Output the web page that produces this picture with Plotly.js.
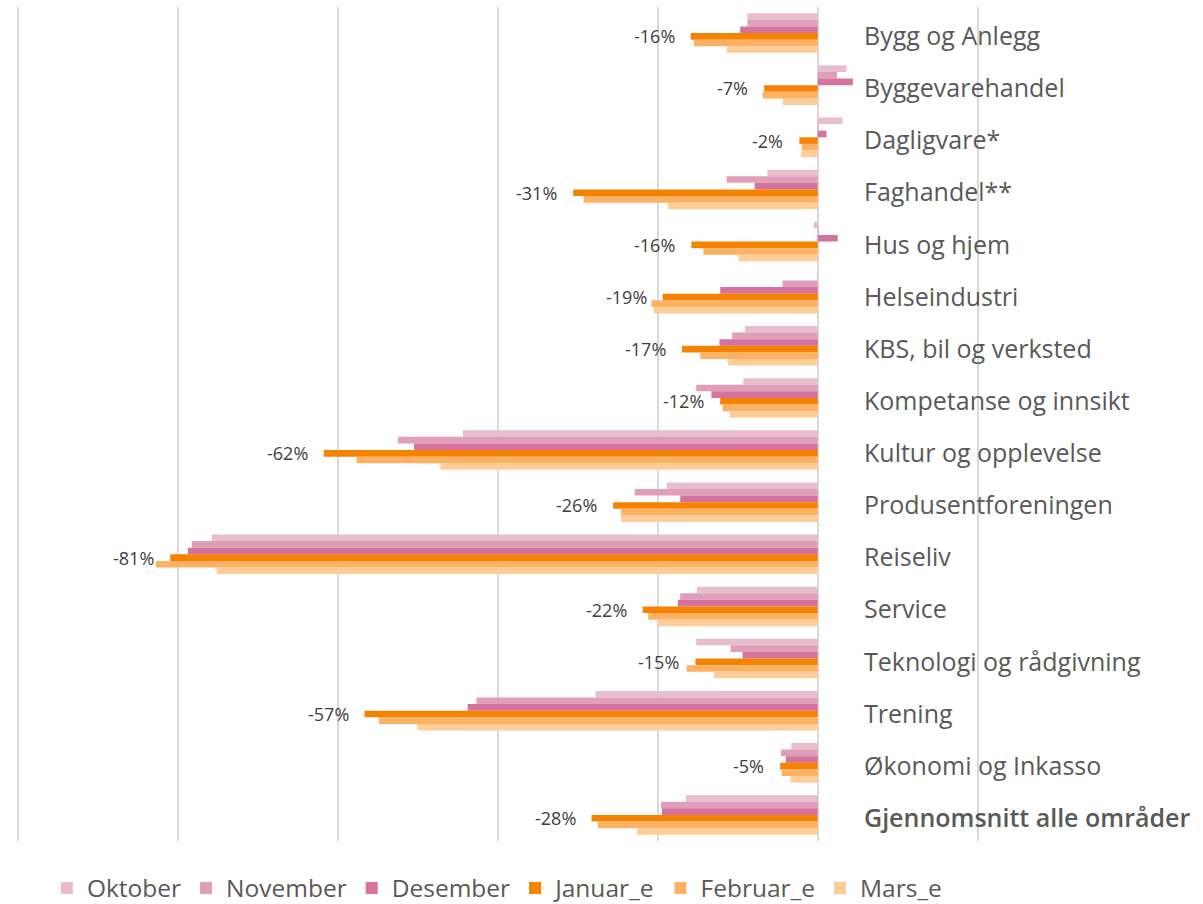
<!DOCTYPE html>
<html>
<head>
<meta charset="utf-8">
<script src="https://cdn.plot.ly/plotly-3.0.1.min.js"></script>
<style>html,body{margin:0;padding:0;background:#fff;}#chart{width:1203px;height:904px;}</style>
</head>
<body>
<div id="chart"></div>
<script>
const categories = ["Bygg og Anlegg","Byggevarehandel","Dagligvare*","Faghandel**","Hus og hjem","Helseindustri","KBS, bil og verksted","Kompetanse og innsikt","Kultur og opplevelse","Produsentforeningen","Reiseliv","Service","Teknologi og rådgivning","Trening","Økonomi og Inkasso","Gjennomsnitt alle områder"];
const seriesNames = ["Oktober","November","Desember","Januar_e","Februar_e","Mars_e"];
const oktober  = [-8.8, 3.6, 3.1, -6.3, -0.5, -0.1, -9.1, -9.3, -44.4, -18.9, -75.8, -15.1, -15.2, -27.8, -3.3, -16.5];
const november = [-8.8, 2.4, 0.1, -11.4, 0.1, -4.4, -10.7, -15.2, -52.5, -22.9, -78.3, -17.2, -10.9, -42.7, -4.6, -19.6];
const desember = [-9.7, 4.4, 1.1, -7.9, 2.5, -12.2, -12.3, -13.3, -50.5, -17.2, -78.8, -17.5, -9.4, -43.8, -4.0, -19.5];
const januar   = [-15.9, -6.7, -2.3, -30.6, -15.8, -19.4, -17.0, -12.2, -61.8, -25.6, -81.0, -21.9, -15.3, -56.7, -4.7, -28.3];
const februar  = [-15.5, -6.9, -2.0, -29.3, -14.3, -20.8, -14.7, -11.9, -57.7, -24.6, -82.8, -21.2, -16.4, -54.9, -4.5, -27.5];
const mars     = [-11.4, -4.4, -2.1, -18.7, -9.9, -20.5, -11.2, -11.0, -47.2, -24.6, -75.2, -20.0, -13.0, -50.1, -3.4, -22.6];
const gridTicks = [-100, -80, -60, -40, -20, 0, 20];

const colors = ["#E8BDCD","#DF9FB9","#D5729E","#F58200","#FFB163","#FFCE98"];
const allSeries = [oktober, november, desember, januar, februar, mars];
const FONT = '"Open Sans", sans-serif';

const traces = allSeries.map((vals, i) => ({
  type: 'bar', orientation: 'h', name: seriesNames[i],
  x: vals, y: categories,
  marker: {color: colors[i]},
  hoverinfo: 'x+name'
}));

const annotations = categories.map((c, i) => ({
  x: 0, y: c, xref: 'x', yref: 'y',
  text: c, showarrow: false, xanchor: 'left', yanchor: 'middle',
  xshift: 44, yshift: -2,
  font: {family: FONT, size: 25, color: '#595959', weight: i === categories.length - 1 ? 600 : 400}
}));

// data labels for Januar_e
categories.forEach((c, i) => {
  annotations.push({
    x: januar[i], y: c, xref: 'x', yref: 'y',
    text: Math.round(januar[i]) + '%', showarrow: false,
    xanchor: 'right', yanchor: 'middle', xshift: -14, yshift: -3.3,
    font: {family: FONT, size: 18, color: '#404040'}
  });
});

const layout = {
  width: 1203, height: 904,
  margin: {l: 16, r: 223, t: 7, b: 63},
  paper_bgcolor: '#ffffff', plot_bgcolor: '#ffffff',
  barmode: 'group', bargap: 0.24, bargroupgap: 0,
  showlegend: true,
  legend: {orientation: 'h', xref: 'container', yref: 'container', x: 0.039, xanchor: 'left', y: 0.0177, yanchor: 'middle',
    font: {family: FONT, size: 24.5, color: '#595959'}, itemwidth: 30, traceorder: 'normal',
    borderwidth: 0, bgcolor: 'rgba(0,0,0,0)'},
  xaxis: {range: [-100.3, 20.3], tickvals: gridTicks, showticklabels: false, showgrid: true,
    gridcolor: '#D9D9D9', gridwidth: 2, zeroline: false, showline: false, ticks: '', fixedrange: true},
  yaxis: {type: 'category', autorange: 'reversed', showticklabels: false, showgrid: false,
    zeroline: false, showline: false, ticks: ''},
  annotations: annotations,
  font: {family: FONT, color: '#595959'}
};

Plotly.newPlot('chart', traces, layout, {displayModeBar: false, staticPlot: true});
</script>
</body>
</html>
